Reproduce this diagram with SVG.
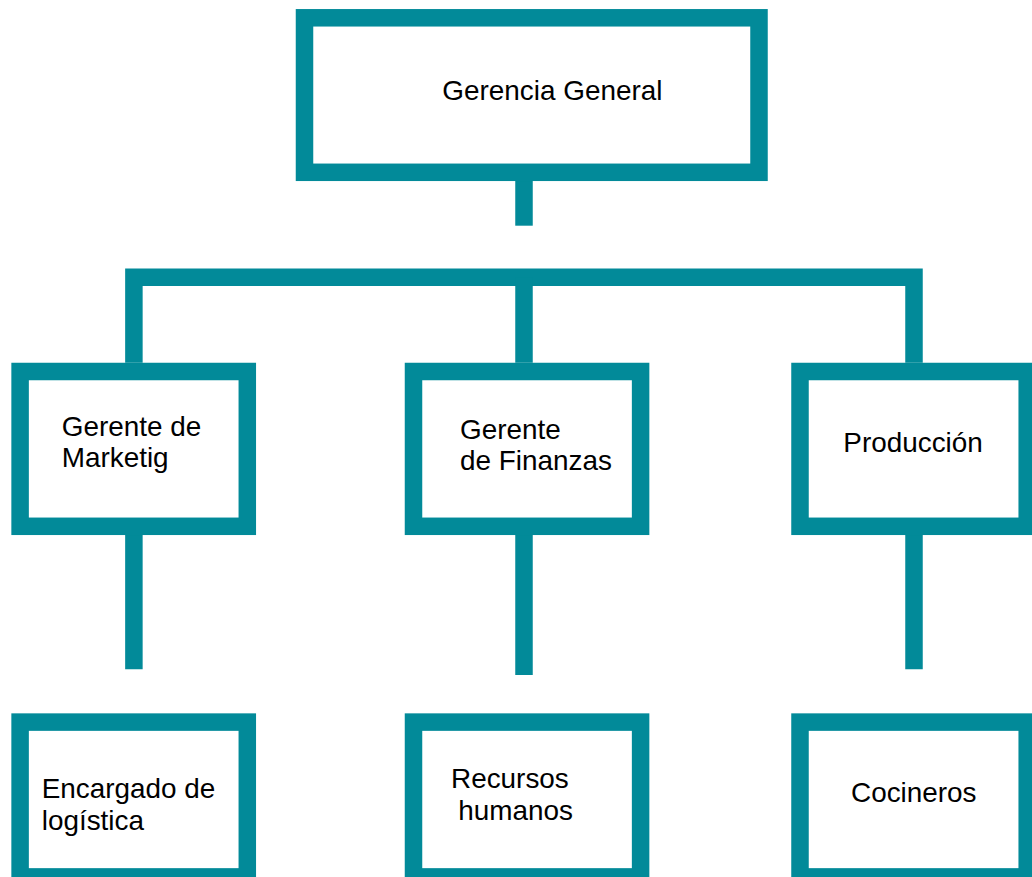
<svg xmlns="http://www.w3.org/2000/svg" width="1032" height="877" viewBox="0 0 1032 877">
<style>
.box{fill:#ffffff;stroke:#028A99;stroke-width:17.5;stroke-linejoin:miter}
.con{fill:none;stroke:#028A99;stroke-width:17.5;stroke-linecap:butt;stroke-linejoin:miter}
text{font-family:"Liberation Sans",Arial,sans-serif;font-size:27.9px;fill:#000000}
</style>
<rect width="1032" height="877" fill="#ffffff"/>
<g id="connectors">
<path class="con" d="M524,181 V225.7"/>
<path class="con" d="M133.9,362.7 V277.2 H914 V362.7"/>
<path class="con" d="M524,277.2 V362.7"/>
<path class="con" d="M133.9,535 V669.3"/>
<path class="con" d="M524,535 V675"/>
<path class="con" d="M914,535 V669.3"/>
</g>
<g id="gerencia-general">
<rect class="box" x="304.5" y="17.8" width="454.5" height="154.5"/>
<text x="442.3" y="100">Gerencia General</text>
</g>
<g id="gerente-marketing">
<rect class="box" x="20.1" y="371.5" width="227.2" height="154.8"/>
<text x="61.7" y="436">Gerente de</text>
<text x="61.7" y="466.7">Marketig</text>
</g>
<g id="gerente-finanzas">
<rect class="box" x="413.5" y="371.5" width="227.1" height="154.8"/>
<text x="460" y="439.3">Gerente</text>
<text x="460" y="470">de Finanzas</text>
</g>
<g id="produccion">
<rect class="box" x="800" y="371.5" width="227.2" height="154.8"/>
<text x="843.3" y="451.7">Producción</text>
</g>
<g id="encargado-logistica">
<rect class="box" x="20.1" y="722.1" width="227.2" height="154.8"/>
<text x="41.7" y="798.3">Encargado de</text>
<text x="41.7" y="830">logística</text>
</g>
<g id="recursos-humanos">
<rect class="box" x="413.5" y="722.1" width="227.1" height="154.8"/>
<text x="451" y="788.3">Recursos</text>
<text x="458.3" y="820">humanos</text>
</g>
<g id="cocineros">
<rect class="box" x="800" y="722.1" width="227.2" height="154.8"/>
<text x="851" y="801.7">Cocineros</text>
</g>
</svg>
